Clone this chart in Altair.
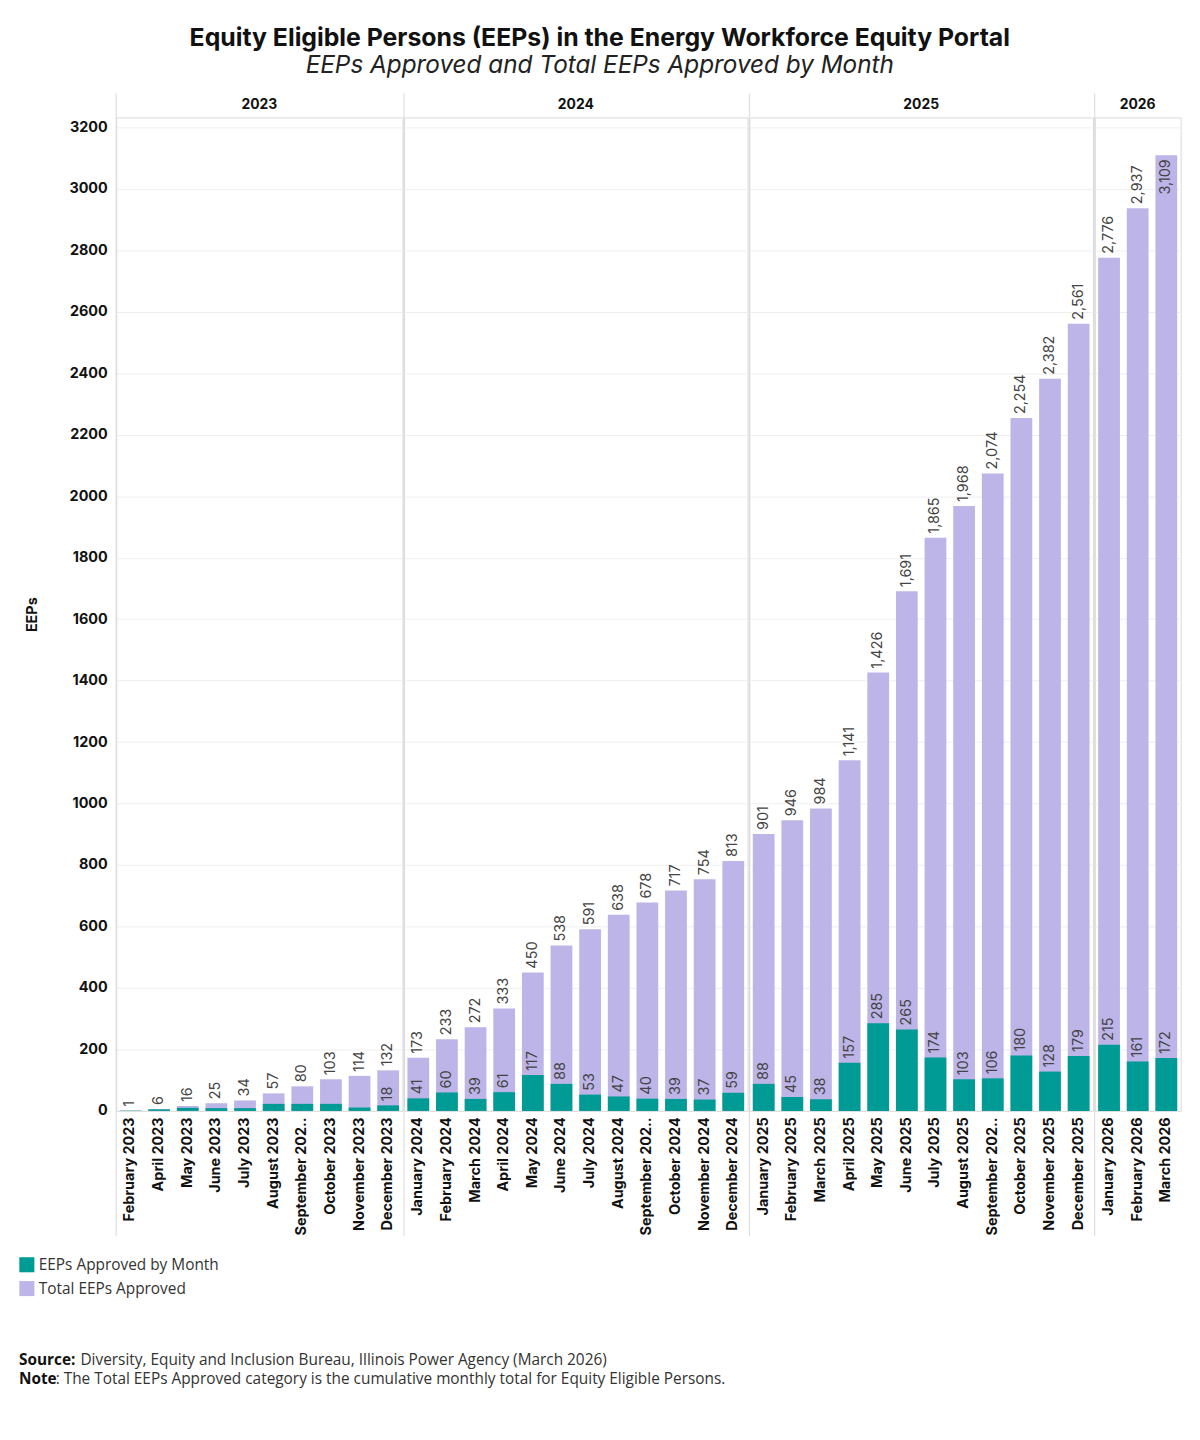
import pandas as pd
import altair as alt

months = [
    "February 2023", "April 2023", "May 2023", "June 2023", "July 2023",
    "August 2023", "September 2023", "October 2023", "November 2023", "December 2023",
    "January 2024", "February 2024", "March 2024", "April 2024", "May 2024", "June 2024",
    "July 2024", "August 2024", "September 2024", "October 2024", "November 2024", "December 2024",
    "January 2025", "February 2025", "March 2025", "April 2025", "May 2025", "June 2025",
    "July 2025", "August 2025", "September 2025", "October 2025", "November 2025", "December 2025",
    "January 2026", "February 2026", "March 2026",
]
years = [m.split()[-1] for m in months]
approved_by_month = [
    1, 5, 10, 9, 9, 23, 23, 23, 11, 18,
    41, 60, 39, 61, 117, 88, 53, 47, 40, 39, 37, 59,
    88, 45, 38, 157, 285, 265, 174, 103, 106, 180, 128, 179,
    215, 161, 172,
]
total_approved = [
    1, 6, 16, 25, 34, 57, 80, 103, 114, 132,
    173, 233, 272, 333, 450, 538, 591, 638, 678, 717, 754, 813,
    901, 946, 984, 1141, 1426, 1691, 1865, 1968, 2074, 2254, 2382, 2561,
    2776, 2937, 3109,
]
series_names = ["EEPs Approved by Month", "Total EEPs Approved"]
# monthly labels that the original leaves out (too small to show)
hidden_monthly_labels = months[:9]

df = pd.DataFrame({
    "month": months,
    "year": years,
    "monthly": approved_by_month,
    "total": total_approved,
})
df["show_monthly"] = ~df["month"].isin(hidden_monthly_labels)

TEAL = "#009b94"
LAVENDER = "#bdb5e8"
LINE = "#d9d9d9"
FONT = "Inter"
NOTE_FONT = "Open Sans"
PLOT_H = 1001

color_scale = alt.Scale(domain=series_names, range=[TEAL, LAVENDER])
legend = alt.Legend(title=None, orient="none", legendX=-98, legendY=1148,
                    symbolType="square", symbolSize=230, symbolStrokeWidth=0,
                    labelFontSize=15.5, labelColor="#333", labelFont=NOTE_FONT,
                    labelLimit=400, rowPadding=7, symbolOpacity=1)

x_enc = alt.X(
    "month:N", sort=months, title=None,
    scale=alt.Scale(paddingInner=0.24, paddingOuter=0.12),
    axis=alt.Axis(labelAngle=270, labelFontWeight="bold", labelFontSize=14.5,
                  labelColor="#111", ticks=False, domainColor="#dddddd",
                  labelPadding=6, labelLimit=300, labelFont=FONT,
                  # the original cuts the long September labels short
                  labelExpr="indexof(datum.label, 'September') == 0 ? 'September 202..' : datum.label"),
)
y_scale = alt.Scale(domain=[0, 3232], nice=False)

total_bars = alt.Chart().mark_bar().transform_calculate(
    series=f"'{series_names[1]}'"
).encode(
    x=x_enc,
    y=alt.Y("total:Q", scale=y_scale, title="EEPs",
            axis=alt.Axis(values=list(range(0, 3201, 200)), format="d",
                          labelFontWeight="bold", labelFontSize=14.5, labelColor="#111",
                          ticks=False, domain=False, gridColor="#efefef", labelPadding=8,
                          titleFontWeight="bold", titleFontSize=14.5, titleColor="#111",
                          titlePadding=30, labelFont=FONT, titleFont=FONT)),
    color=alt.Color("series:N", scale=color_scale, legend=legend),
)
monthly_bars = alt.Chart().mark_bar().transform_calculate(
    series=f"'{series_names[0]}'"
).encode(
    x=x_enc,
    y=alt.Y("monthly:Q", scale=y_scale),
    color=alt.Color("series:N", scale=color_scale, legend=legend),
)

label_style = dict(angle=270, baseline="middle", fontSize=14.5, color="#444", font=FONT)

total_text = alt.Chart().mark_text(align="left", dx=4, **label_style).encode(
    x=x_enc, y=alt.Y("total:Q", scale=y_scale),
    text=alt.Text("total:Q", format=","),
).transform_filter(alt.datum.total < 3050)
total_text_inside = alt.Chart().mark_text(align="right", dx=-4, **label_style).encode(
    x=x_enc, y=alt.Y("total:Q", scale=y_scale),
    text=alt.Text("total:Q", format=","),
).transform_filter(alt.datum.total >= 3050)
monthly_text = alt.Chart().mark_text(align="left", dx=4, **label_style).encode(
    x=x_enc, y=alt.Y("monthly:Q", scale=y_scale),
    text=alt.Text("monthly:Q", format=","),
).transform_filter(alt.datum.show_monthly)

# panel dividers running through the header and the month labels
dividers = alt.Chart().mark_rule(color=LINE, strokeWidth=1).encode(
    x=alt.value(0), y=alt.value(-24), y2=alt.value(PLOT_H + 126),
).transform_aggregate(n="count()")

bars = alt.layer(
    total_bars, monthly_bars, total_text, total_text_inside, monthly_text,
    dividers, data=df
).properties(
    width=alt.Step(28.85), height=PLOT_H,
).facet(
    column=alt.Column("year:N", title=None,
                      header=alt.Header(labelOrient="top", labelFontWeight="bold",
                                        labelFontSize=14, labelColor="#111",
                                        labelFont=FONT, labelPadding=-19)),
    spacing=0,
).resolve_scale(x="independent")

notes_df = pd.DataFrame({
    "row": [0, 1],
    "bold": ["Source:", "Note"],
    "rest": ["Diversity, Equity and Inclusion Bureau, Illinois Power Agency (March 2026)",
             ": The Total EEPs Approved category is the cumulative  monthly total for Equity Eligible Persons."],
})
note_layers = []
for r, offset in [(0, 62), (1, 37)]:
    row_data = notes_df[notes_df["row"] == r]
    ypos = 12 + r * 19
    note_layers.append(alt.Chart(row_data).mark_text(
        align="left", baseline="middle", fontSize=15.5, fontWeight="bold",
        font=NOTE_FONT, color="#111").encode(
        x=alt.value(-98), y=alt.value(ypos), text="bold:N"))
    note_layers.append(alt.Chart(row_data).mark_text(
        align="left", baseline="middle", fontSize=15.5, font=NOTE_FONT, color="#333").encode(
        x=alt.value(-98 + offset), y=alt.value(ypos), text="rest:N"))
notes = alt.layer(*note_layers).properties(
    width=600, height=30, view=alt.ViewBackground(stroke="transparent"))

chart = alt.vconcat(bars, notes, spacing=111).properties(
    title=alt.TitleParams(
        "Equity Eligible Persons (EEPs) in the Energy Workforce Equity Portal",
        subtitle="EEPs Approved and Total EEPs Approved by Month",
        anchor="middle", font=FONT, fontSize=25, fontWeight="bold", color="#111",
        subtitleFont=FONT, subtitleFontSize=24.5, subtitleFontStyle="italic",
        subtitleColor="#222", subtitlePadding=4, offset=15,
    ),
    padding={"left": 10, "top": 12, "right": 10, "bottom": 10},
).configure_view(
    stroke=LINE, strokeWidth=1,
)

chart.save("out.html", embed_options={"renderer": "svg", "actions": False})
